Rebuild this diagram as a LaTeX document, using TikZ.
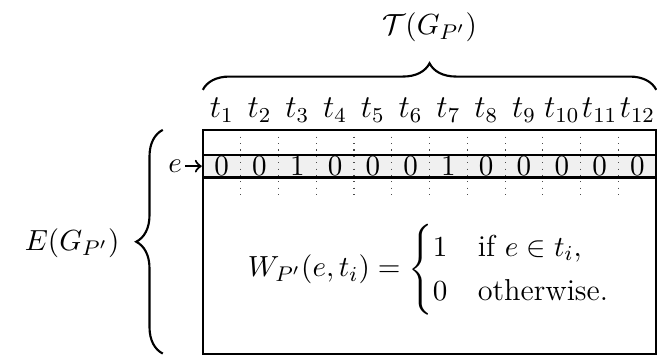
\documentclass[tikz,border=0pt]{standalone}
\usepackage{amsmath,amssymb}
\usepackage{xcolor}
\usepackage{tikz}
\usetikzlibrary{decorations.pathreplacing,positioning}
\tikzset{
  bracedeco/.style={decorate, decoration={brace, amplitude=10pt}, thick},
  rowbox/.style={draw, thick, fill=gray!12, minimum width=6cm, minimum height=0.3cm, inner sep=0pt},
  cellsep/.style={dotted, black!70}
}

\begin{document}
\begin{tikzpicture}[every node/.style={font=\fontsize{11.4}{14}\selectfont}]
        \useasboundingbox (-2.684,-2.99) rectangle (6.01,1.719);

        \draw[thick] (0,0) rectangle (6,-2.96);
        \node[rowbox] (row) at (3,-0.48) {};

        \foreach \k in {1,...,11}
            \draw[cellsep] (0.5*\k,-0.09) -- (0.5*\k,-0.93);

        \foreach \v [count=\i] in {0,0,1,0,0,0,1,0,0,0,0,0}
            \node (c\i) at ({0.5*\i-0.25},-0.48) {$\v$};

        \foreach \k in {1,...,12}
            \node[font=\large] (t\k) at ({0.5*\k-0.25},0.26) {$t_{\k}$};

        \node[inner sep=1pt, left=0.22cm of row.west] (e) {$e$};
        \draw[->, thick] (e) -- (row.west);

        \draw[bracedeco] (0,0.53) -- (6,0.53);
        \node (tg) at (3,1.36) {$\mathcal{T}(G_{P'})$};

        \draw[bracedeco] (-0.53,-2.96) -- (-0.53,0);
        \node (eg) at (-1.73,-1.5) {$E(G_{P'})$};

        \node (w) at (3,-1.85) {$W_{P'}(e,t_i) = \begin{cases}1 & \text{if } e \in t_i,\\ 0 & \text{otherwise.}\end{cases}$};
    \end{tikzpicture}
\end{document}
